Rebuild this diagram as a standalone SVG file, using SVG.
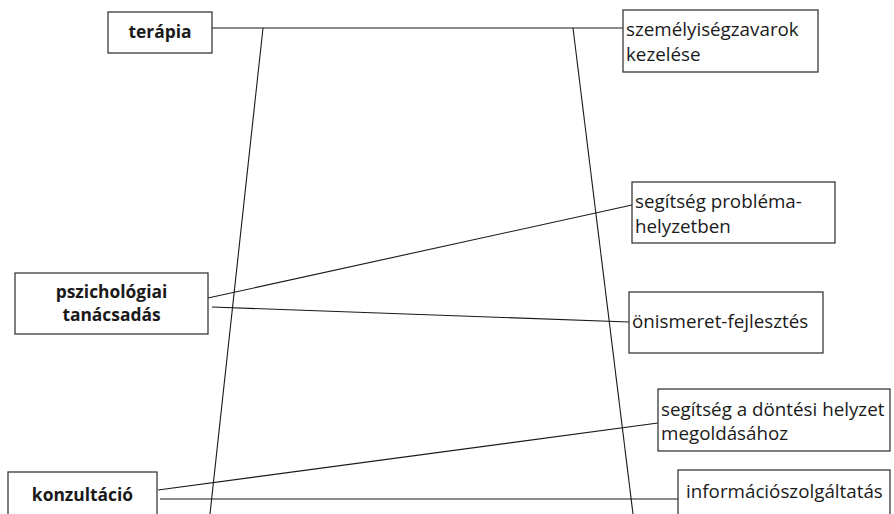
<svg xmlns="http://www.w3.org/2000/svg" width="894" height="514" viewBox="0 0 894 514">
  <style>
    .box { fill: #ffffff; stroke: #3a3a3a; stroke-width: 1.3; }
    .conn { stroke: #1a1a1a; stroke-width: 1.1; fill: none; }
    .lbl { font-family: "Open Sans", "Noto Sans", sans-serif; font-size: 18.8px; fill: #1a1a1a; }
    .lvl { font-family: "Open Sans", "Noto Sans", sans-serif; font-size: 17.4px; font-weight: bold; fill: #1a1a1a; text-anchor: middle; }
  </style>
  <rect width="894" height="514" fill="#ffffff"/>

  <g id="connectors">
    <!-- trapezoid sides -->
    <line class="conn" x1="263" y1="28" x2="210" y2="514"/>
    <line class="conn" x1="573" y1="28" x2="633" y2="514"/>
    <!-- links -->
    <line class="conn" x1="212" y1="28" x2="623" y2="28"/>
    <line class="conn" x1="208" y1="298" x2="632" y2="205"/>
    <line class="conn" x1="212" y1="307" x2="629" y2="322"/>
    <line class="conn" x1="158" y1="490" x2="658" y2="423"/>
    <line class="conn" x1="160" y1="499" x2="678" y2="499"/>
  </g>

  <g id="terapia">
    <rect class="box" x="108" y="12" width="104" height="41"/>
    <text class="lvl" x="160" y="38">terápia</text>
  </g>
  <g id="pszichologiai-tanacsadas">
    <rect class="box" x="15" y="273" width="193" height="61"/>
    <text class="lvl" x="111.5" y="298">pszichológiai</text>
    <text class="lvl" x="111.5" y="321">tanácsadás</text>
  </g>
  <g id="konzultacio">
    <rect class="box" x="8" y="472" width="149" height="50"/>
    <text class="lvl" x="82.5" y="501">konzultáció</text>
  </g>

  <g id="szemelyisegzavarok">
    <rect class="box" x="623" y="10" width="195" height="62"/>
    <text class="lbl" x="626" y="36">személyiségzavarok</text>
    <text class="lbl" x="626" y="61">kezelése</text>
  </g>
  <g id="segitseg-problema">
    <rect class="box" x="632" y="182" width="203" height="61"/>
    <text class="lbl" x="635" y="208">segítség probléma-</text>
    <text class="lbl" x="635" y="233">helyzetben</text>
  </g>
  <g id="onismeret">
    <rect class="box" x="629" y="292" width="194" height="61"/>
    <text class="lbl" x="632" y="328">önismeret-fejlesztés</text>
  </g>
  <g id="segitseg-dontesi">
    <rect class="box" x="658" y="389" width="232" height="62"/>
    <text class="lbl" x="661" y="416">segítség a döntési helyzet</text>
    <text class="lbl" x="661" y="440">megoldásához</text>
  </g>
  <g id="informacioszolgaltatas">
    <rect class="box" x="678" y="470" width="212" height="52"/>
    <text class="lbl" x="686" y="498">információszolgáltatás</text>
  </g>
</svg>
